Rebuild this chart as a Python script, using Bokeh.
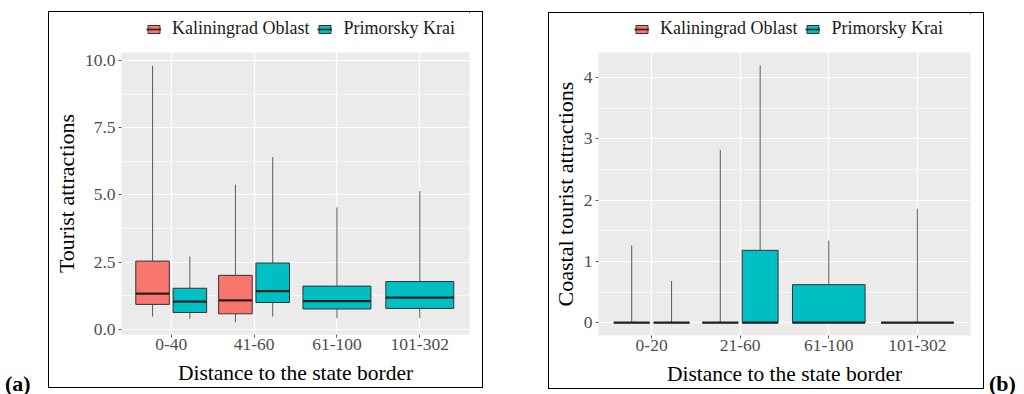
from bokeh.plotting import figure
from bokeh.models import (ColumnDataSource, Range1d, FixedTicker, Legend,
                          LegendItem, Div, Spacer)
from bokeh.layouts import row, column
from bokeh.embed import file_html
from bokeh.resources import INLINE

# ---------------- data ----------------
REGIONS = ["Kaliningrad Oblast", "Primorsky Krai"]
REGION_COLORS = ["#F8766D", "#00BFC4"]

# panel (a): tourist attractions
A_CATS = ["0-40", "41-60", "61-100", "101-302"]
A_KAL_LOWER = [0.48, 0.27, None, None]
A_KAL_Q1 = [0.93, 0.58, None, None]
A_KAL_MED = [1.33, 1.08, None, None]
A_KAL_Q3 = [2.54, 2.01, None, None]
A_KAL_UPPER = [9.81, 5.38, None, None]
A_PRI_LOWER = [0.40, 0.48, 0.42, 0.42]
A_PRI_Q1 = [0.63, 1.00, 0.76, 0.78]
A_PRI_MED = [1.03, 1.42, 1.05, 1.18]
A_PRI_Q3 = [1.53, 2.47, 1.61, 1.78]
A_PRI_UPPER = [2.71, 6.41, 4.54, 5.14]
A_YTICKS = [0, 2.5, 5, 7.5, 10]
A_YLABELS = ["0.0", "2.5", "5.0", "7.5", "10.0"]

# panel (b): coastal tourist attractions
B_CATS = ["0-20", "21-60", "61-100", "101-302"]
B_KAL_LOWER = [0, 0, None, None]
B_KAL_Q1 = [0, 0, None, None]
B_KAL_MED = [0, 0, None, None]
B_KAL_Q3 = [0, 0, None, None]
B_KAL_UPPER = [1.26, 2.82, None, None]
B_PRI_LOWER = [0, 0, 0, 0]
B_PRI_Q1 = [0, 0, 0, 0]
B_PRI_MED = [0, 0, 0, 0]
B_PRI_Q3 = [0, 1.18, 0.62, 0]
B_PRI_UPPER = [0.68, 4.20, 1.34, 1.86]
B_YTICKS = [0, 1, 2, 3, 4]
B_YLABELS = ["0", "1", "2", "3", "4"]

SERIF = "Liberation Serif"
DODGE = 0.225
DODGE_W = 0.405
FULL_W = 0.82
BOX_LINE = "#333333"
MED_LINE = "#222222"
WHISKER = "#5a5a5a"


def make_source(stats, other_lower, side):
    lower, q1, med, q3, upper = stats
    d = dict(x=[], w=[], left=[], right=[], lower=[], q1=[], med=[], q3=[], upper=[])
    for i in range(len(lower)):
        if lower[i] is None:
            continue
        if other_lower[i] is not None:
            x = i + 1 + side * DODGE
            w = DODGE_W
        else:
            x = i + 1
            w = FULL_W
        d["x"].append(x)
        d["w"].append(w)
        d["left"].append(x - w / 2)
        d["right"].append(x + w / 2)
        d["lower"].append(lower[i])
        d["q1"].append(q1[i])
        d["med"].append(med[i])
        d["q3"].append(q3[i])
        d["upper"].append(upper[i])
    return ColumnDataSource(d)


def make_legend_fig(width, height, legend_xy, sources):
    # legend strip above the panel; proxies share the panel's data but the
    # strip's ranges keep them out of view so only the legend shows
    lf = figure(width=width, height=height, x_range=Range1d(-20, -19),
                y_range=Range1d(-20, -19), output_backend="svg",
                toolbar_location=None, min_border=0,
                x_axis_location=None, y_axis_location=None)
    lf.grid.visible = False
    lf.outline_line_color = None
    lf.background_fill_color = "white"
    lf.border_fill_color = "white"
    items = []
    for name, color, src in zip(REGIONS, REGION_COLORS, sources):
        rb = lf.vbar(x="x", width="w", bottom="q1", top="q3", source=src,
                     fill_color=color, line_color=BOX_LINE, line_width=1)
        rm = lf.segment(x0="left", y0="med", x1="right", y1="med", source=src,
                        line_color=MED_LINE, line_width=1.6)
        items.append(LegendItem(label=name, renderers=[rb, rm]))
    legend = Legend(items=items, location=legend_xy, orientation="horizontal",
                    padding=0, margin=0, spacing=8, glyph_width=15,
                    glyph_height=10, label_standoff=11, label_height=20,
                    label_text_font=SERIF, label_text_font_size="18px",
                    label_text_color="#1a1a1a", border_line_color=None,
                    background_fill_alpha=0)
    lf.add_layout(legend)
    return lf


def make_panel(cats, kal, pri, yticks, ylabels, yrange, ylabel,
               width, height, borders):
    p = figure(width=width, height=height,
               x_range=Range1d(0.4, 4.6), y_range=Range1d(*yrange),
               output_backend="svg", toolbar_location=None,
               min_border_left=borders[0], min_border_right=borders[1],
               min_border_top=borders[2], min_border_bottom=borders[3])
    p.background_fill_color = "#EBEBEB"
    p.border_fill_color = "white"
    p.outline_line_color = None

    minor = [(yticks[i] + yticks[i + 1]) / 2 for i in range(len(yticks) - 1)]
    p.yaxis.ticker = FixedTicker(ticks=yticks, minor_ticks=minor)
    p.yaxis.major_label_overrides = {t: l for t, l in zip(yticks, ylabels)}
    p.xaxis.ticker = FixedTicker(ticks=list(range(1, len(cats) + 1)))
    p.xaxis.major_label_overrides = {i + 1: c for i, c in enumerate(cats)}

    for ax in (p.xaxis[0], p.yaxis[0]):
        ax.axis_line_color = None
        ax.major_tick_line_color = "#5a5a5a"
        ax.major_tick_out = 3
        ax.major_tick_in = 0
        ax.minor_tick_line_color = None
        ax.major_label_text_font = SERIF
        ax.major_label_text_font_size = "17.5px"
        ax.major_label_text_color = "#4D4D4D"
        ax.axis_label_text_font = SERIF
        ax.axis_label_text_font_style = "normal"
        ax.axis_label_text_color = "black"
    p.xaxis.major_label_standoff = 1
    p.yaxis.major_label_standoff = 2
    p.xaxis.axis_label = "Distance to the state border"
    p.xaxis.axis_label_text_font_size = "21.5px"
    p.xaxis.axis_label_standoff = 8
    p.yaxis.axis_label = ylabel
    p.yaxis.axis_label_text_font_size = "22px"
    p.yaxis.axis_label_standoff = 3

    p.xgrid.grid_line_color = "white"
    p.xgrid.grid_line_width = 1.2
    p.ygrid.grid_line_color = "white"
    p.ygrid.grid_line_width = 1.2
    p.ygrid.minor_grid_line_color = "white"
    p.ygrid.minor_grid_line_width = 0.6

    sources = []
    for color, stats, other, side in [
        (REGION_COLORS[0], kal, pri[0], -1),
        (REGION_COLORS[1], pri, kal[0], 1),
    ]:
        src = make_source(stats, other, side)
        sources.append(src)
        p.segment(x0="x", y0="lower", x1="x", y1="upper", source=src,
                  line_color=WHISKER, line_width=1)
        p.vbar(x="x", width="w", bottom="q1", top="q3", source=src,
               fill_color=color, line_color=BOX_LINE, line_width=1)
        p.segment(x0="left", y0="med", x1="right", y1="med", source=src,
                  line_color=MED_LINE, line_width=2.2)
    return p, sources


pa, src_a = make_panel(A_CATS,
                       (A_KAL_LOWER, A_KAL_Q1, A_KAL_MED, A_KAL_Q3, A_KAL_UPPER),
                       (A_PRI_LOWER, A_PRI_Q1, A_PRI_MED, A_PRI_Q3, A_PRI_UPPER),
                       A_YTICKS, A_YLABELS, (-0.19, 10.3), "Tourist attractions",
                       433, 335, (72, 13, 0, 53))
leg_a = make_legend_fig(433, 40, (25, 13), src_a)
pb, src_b = make_panel(B_CATS,
                       (B_KAL_LOWER, B_KAL_Q1, B_KAL_MED, B_KAL_Q3, B_KAL_UPPER),
                       (B_PRI_LOWER, B_PRI_Q1, B_PRI_MED, B_PRI_Q3, B_PRI_UPPER),
                       B_YTICKS, B_YLABELS, (-0.21, 4.41), "Coastal tourist attractions",
                       434, 336, (49, 13, 0, 51))
leg_b = make_legend_fig(434, 39, (36, 13), src_b)

box_a = column(leg_a, pa, styles={"border": "1px solid black"})
box_b = column(leg_b, pb, styles={"border": "1px solid black"})

lab_style = ("font-family:'Liberation Serif'; font-weight:bold; font-size:22px; "
             "line-height:22px; margin-top:368px; color:black;")
div_a = Div(text='<div style="%s">(a)</div>' % lab_style, width=38, height=392)
div_b = Div(text='<div style="%s text-align:right;">(b)</div>' % lab_style,
            width=34, height=392)

layout = row(div_a, column(Spacer(height=11), box_a), Spacer(width=65),
             column(Spacer(height=12), box_b), div_b)

open("out.html", "w").write(file_html(layout, INLINE))
